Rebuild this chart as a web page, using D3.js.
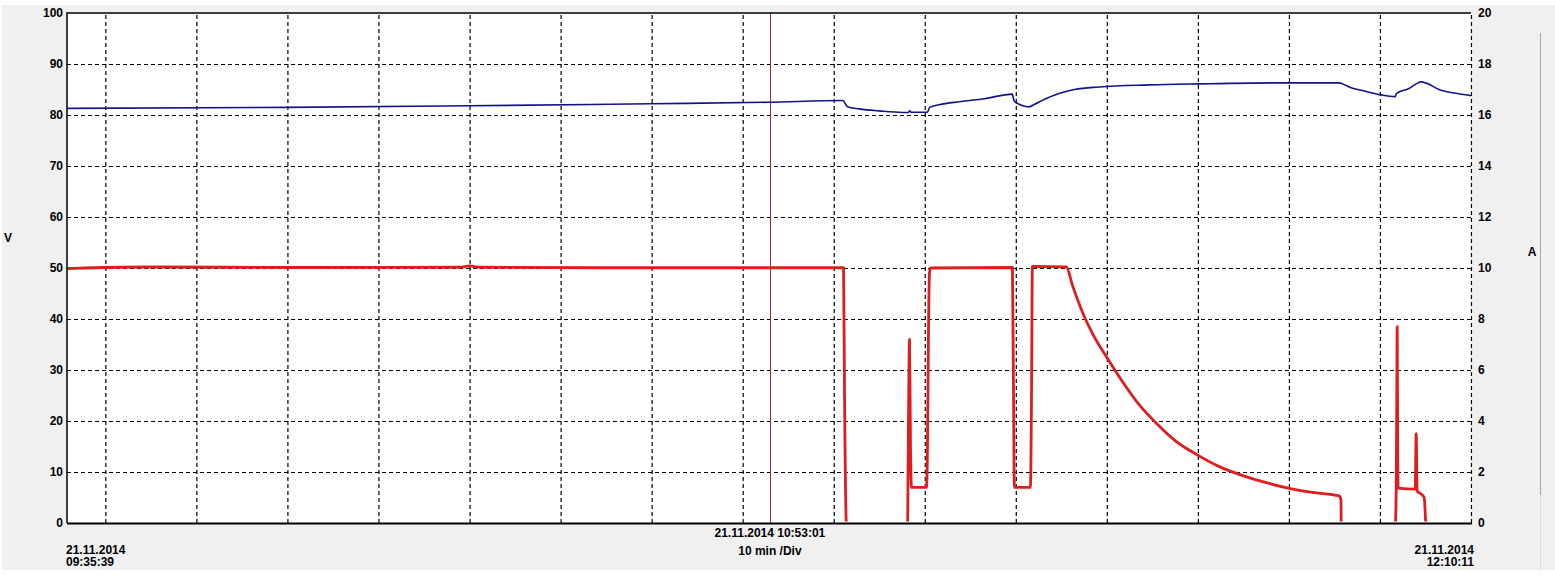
<!DOCTYPE html>
<html><head><meta charset="utf-8">
<script src="https://cdn.jsdelivr.net/npm/d3@7/dist/d3.min.js"></script>
<style>
html,body{margin:0;padding:0;background:#fff;}
svg{display:block;}
text{font-family:"Liberation Sans",Arial,sans-serif;font-weight:bold;fill:#000;}
</style></head><body>
<script>
// ---- data (time in minutes after 21.11.2014 09:35:39) ----
const totalMinutes = 154.533;          // 09:35:39 -> 12:10:11
const cursorMinute = 77.367;           // 10:53:01
const startLabel = ["21.11.2014", "09:35:39"];
const endLabel = ["21.11.2014", "12:10:11"];
const cursorLabel = ["21.11.2014 10:53:01", "10 min /Div"];
const leftTicks = [0,10,20,30,40,50,60,70,80,90,100];
const rightTicks = [0,2,4,6,8,10,12,14,16,18,20];
const gridMinutes = [4.22,14.24,24.26,34.28,44.31,54.33,64.35,74.37,84.39,94.41,104.43,114.45,124.47,134.49,144.51,154.53];

// voltage trace (V, left axis)
const voltT = [0,24.2,44.2,64.2,77.3,85.4,85.6,85.9,87.2,89.4,92.0,92.6,92.75,92.9,94.7,94.95,96.0,98.2,101.0,104.05,104.2,104.4,105.9,106.5,107.6,109.2,110.9,113.6,119.1,124.6,133.4,140.0,140.4,141.1,142.8,144.5,146.2,146.3,147.7,148.6,149.0,149.7,151.0,152.7,154.53];
const voltV = [81.3,81.5,81.8,82.2,82.5,82.85,82.4,81.6,81.2,80.8,80.5,80.5,80.8,80.55,80.55,81.5,82.0,82.6,83.2,84.1,83.0,82.5,81.6,82.1,83.1,84.2,85.0,85.5,85.9,86.1,86.3,86.3,86.1,85.5,84.7,84.0,83.6,84.2,85.2,86.2,86.5,86.2,85.0,84.3,83.8];

// current trace (A, right axis)
const currT = [0,1.98,9.13,25.6,43.2,44.3,45.4,58.6,77.3,85.47,85.58,85.80,92.51,92.62,92.73,92.84,92.95,94.60,94.71,94.82,94.93,95.04,104.06,104.17,104.28,106.04,106.15,106.26,110.0,110.66,111.98,112.86,114.51,116.05,118.03,119.90,122.10,124.41,126.83,129.25,132.0,134.53,137.06,140.03,140.22,140.25,146.19,146.30,146.36,146.41,146.47,146.52,148.39,148.50,148.61,149.0,149.38,149.60,154.53];
const currA = [9.98,10.0,10.04,10.02,10.03,10.08,10.03,10.01,10.01,10.01,5.0,0,0,4.0,7.2,3.0,1.4,1.4,3.0,7.5,9.8,10.0,10.02,5.5,1.4,1.4,4.5,10.06,10.04,9.33,8.09,7.44,6.46,5.61,4.63,3.91,3.19,2.67,2.21,1.88,1.58,1.36,1.20,1.06,0.9,0,0,1.3,4.7,7.7,2.5,1.37,1.33,3.5,1.25,1.15,1.0,0,0];

// ---- drawing ----
const W = 1555, H = 576;
const svg = d3.select("body").append("svg").attr("width", W).attr("height", H);

// window background
svg.append("rect").attr("x",0).attr("y",0).attr("width",W).attr("height",H).attr("fill","#fff");
svg.append("rect").attr("x",2).attr("y",5).attr("width",W-2).attr("height",565).attr("fill","#f0f0f0");
svg.append("line").attr("x1",1540.5).attr("x2",1540.5).attr("y1",33).attr("y2",495).attr("stroke","#a8a8a8");
svg.append("line").attr("x1",1540.5).attr("x2",1540.5).attr("y1",495).attr("y2",570).attr("stroke","#dcdcdc");

const L = 67, R = 1471, T = 13, B = 523;
const x = d3.scaleLinear().domain([0, totalMinutes]).range([L, R]);
const yV = d3.scaleLinear().domain([0, 100]).range([B, T]);
const yA = d3.scaleLinear().domain([0, 20]).range([B, T]);

svg.append("rect").attr("x",L).attr("y",T).attr("width",R-L).attr("height",B-T).attr("fill","#fff");

// horizontal grid
const hGrid = svg.append("g").attr("transform",`translate(${L},0)`)
  .call(d3.axisLeft(yV).tickValues(leftTicks.filter(d=>d>0 && d<100)).tickSize(-(R-L)).tickFormat(""));
hGrid.select(".domain").remove();
hGrid.selectAll("line").attr("stroke","#000").attr("stroke-dasharray","4,3");

// vertical grid
const vGrid = svg.append("g").attr("transform",`translate(0,${B})`)
  .call(d3.axisBottom(x).tickValues(gridMinutes).tickSize(-(B-T)).tickFormat(""));
vGrid.select(".domain").remove();
vGrid.selectAll("line").attr("stroke","#000").attr("stroke-dasharray","4,3").attr("stroke-width",1.2);

// axes labels
const la = svg.append("g").attr("transform",`translate(${L},0)`)
  .call(d3.axisLeft(yV).tickValues(leftTicks).tickSize(0).tickPadding(4));
la.select(".domain").remove();
la.selectAll("text").style("font-size","12px").style("font-family","'Liberation Sans',Arial,sans-serif").style("font-weight","bold").attr("fill","#000");

const ra = svg.append("g").attr("transform",`translate(${R},0)`)
  .call(d3.axisRight(yA).tickValues(rightTicks).tickSize(0).tickPadding(7));
ra.select(".domain").remove();
ra.selectAll("text").style("font-size","12px").style("font-family","'Liberation Sans',Arial,sans-serif").style("font-weight","bold").attr("fill","#000");

svg.append("text").attr("x",8).attr("y",242).attr("text-anchor","middle").style("font-size","12px").text("V");
svg.append("text").attr("x",1532).attr("y",256).attr("text-anchor","middle").style("font-size","12px").text("A");

// cursor
svg.append("line").attr("x1",Math.round(x(cursorMinute))+0.5).attr("x2",Math.round(x(cursorMinute))+0.5)
  .attr("y1",T).attr("y2",B).attr("stroke","#cc2222").attr("stroke-width",1);

// traces (clipped just above the bottom axis, so zero current is hidden behind it)
svg.append("clipPath").attr("id","plotclip").append("rect")
  .attr("x",L).attr("y",T-2).attr("width",R-L).attr("height",B-T+0.5);

const voltData = voltT.map((t,i)=>[t, voltV[i]]);
const currData = currT.map((t,i)=>[t, currA[i]]);

svg.append("path").attr("clip-path","url(#plotclip)")
  .attr("d", d3.line().curve(d3.curveMonotoneX).x(d=>x(d[0])).y(d=>yV(d[1]))(voltData))
  .attr("fill","none").attr("stroke","#12128a").attr("stroke-width",1.6);

svg.append("path").attr("clip-path","url(#plotclip)")
  .attr("d", d3.line().curve(d3.curveMonotoneX).x(d=>x(d[0])).y(d=>yA(d[1]) + (d[1] === 0 ? 3 : 0))(currData))
  .attr("fill","none").attr("stroke","#e01c1c").attr("stroke-width",2.8).attr("stroke-linejoin","round");

// frame (top, left, bottom solid) drawn over traces
svg.append("path").attr("d",`M${L},${B}V${T}H${R}`).attr("fill","none").attr("stroke","#000").attr("stroke-width",1.5);
svg.append("line").attr("x1",L).attr("x2",R+1).attr("y1",B+0.5).attr("y2",B+0.5).attr("stroke","#000").attr("stroke-width",2);

// bottom labels
const bl = svg.append("g").style("font-size","12px");
bl.append("text").attr("x",x(0)-1).attr("y",554).attr("text-anchor","start").text(startLabel[0]);
bl.append("text").attr("x",x(0)-1).attr("y",566).attr("text-anchor","start").text(startLabel[1]);
bl.append("text").attr("x",x(totalMinutes)+3).attr("y",554).attr("text-anchor","end").text(endLabel[0]);
bl.append("text").attr("x",x(totalMinutes)+3).attr("y",566).attr("text-anchor","end").text(endLabel[1]);
bl.append("text").attr("x",x(cursorMinute)).attr("y",537).attr("text-anchor","middle").text(cursorLabel[0]);
bl.append("text").attr("x",x(cursorMinute)).attr("y",555).attr("text-anchor","middle").text(cursorLabel[1]);
</script>
</body></html>
